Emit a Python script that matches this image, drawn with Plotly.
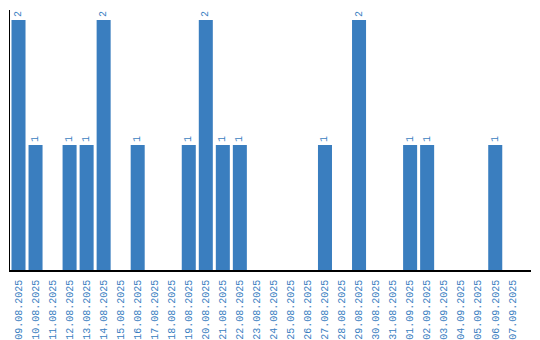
import plotly.graph_objects as go

dates = ["09.08.2025", "10.08.2025", "11.08.2025", "12.08.2025", "13.08.2025",
         "14.08.2025", "15.08.2025", "16.08.2025", "17.08.2025", "18.08.2025",
         "19.08.2025", "20.08.2025", "21.08.2025", "22.08.2025", "23.08.2025",
         "24.08.2025", "25.08.2025", "26.08.2025", "27.08.2025", "28.08.2025",
         "29.08.2025", "30.08.2025", "31.08.2025", "01.09.2025", "02.09.2025",
         "03.09.2025", "04.09.2025", "05.09.2025", "06.09.2025", "07.09.2025"]
counts = [2, 1, 0, 1, 1, 2, 0, 1, 0, 0,
          1, 2, 1, 1, 0, 0, 0, 0, 1, 0,
          2, 0, 0, 1, 1, 0, 0, 0, 1, 0]

BLUE = "#3a7ebf"
labels = [str(v) if v else "" for v in counts]

fig = go.Figure(go.Bar(
    x=dates, y=counts, text=labels, textposition="outside", textangle=-90,
    textfont=dict(family="Liberation Mono", size=10, color=BLUE),
    marker=dict(color=BLUE, line=dict(width=0)), width=14/17,
    cliponaxis=False,
))
fig.update_layout(
    width=540, height=340, margin=dict(l=10, r=9, t=10, b=70),
    paper_bgcolor="white", plot_bgcolor="white", showlegend=False,
    xaxis=dict(type="category", tickangle=-90, range=[-0.5, 30.1],
               showline=True, linecolor="black", linewidth=1.5,
               ticks="", showgrid=False, automargin=False,
               ticklabelstandoff=4,
               tickfont=dict(family="Liberation Mono", size=10, color=BLUE)),
    yaxis=dict(range=[0, 2.08], showline=True, linecolor="black", linewidth=1,
               showticklabels=False, ticks="", showgrid=False, zeroline=False,
               automargin=False, layer="below traces"),
)
fig.write_html("out.html")
